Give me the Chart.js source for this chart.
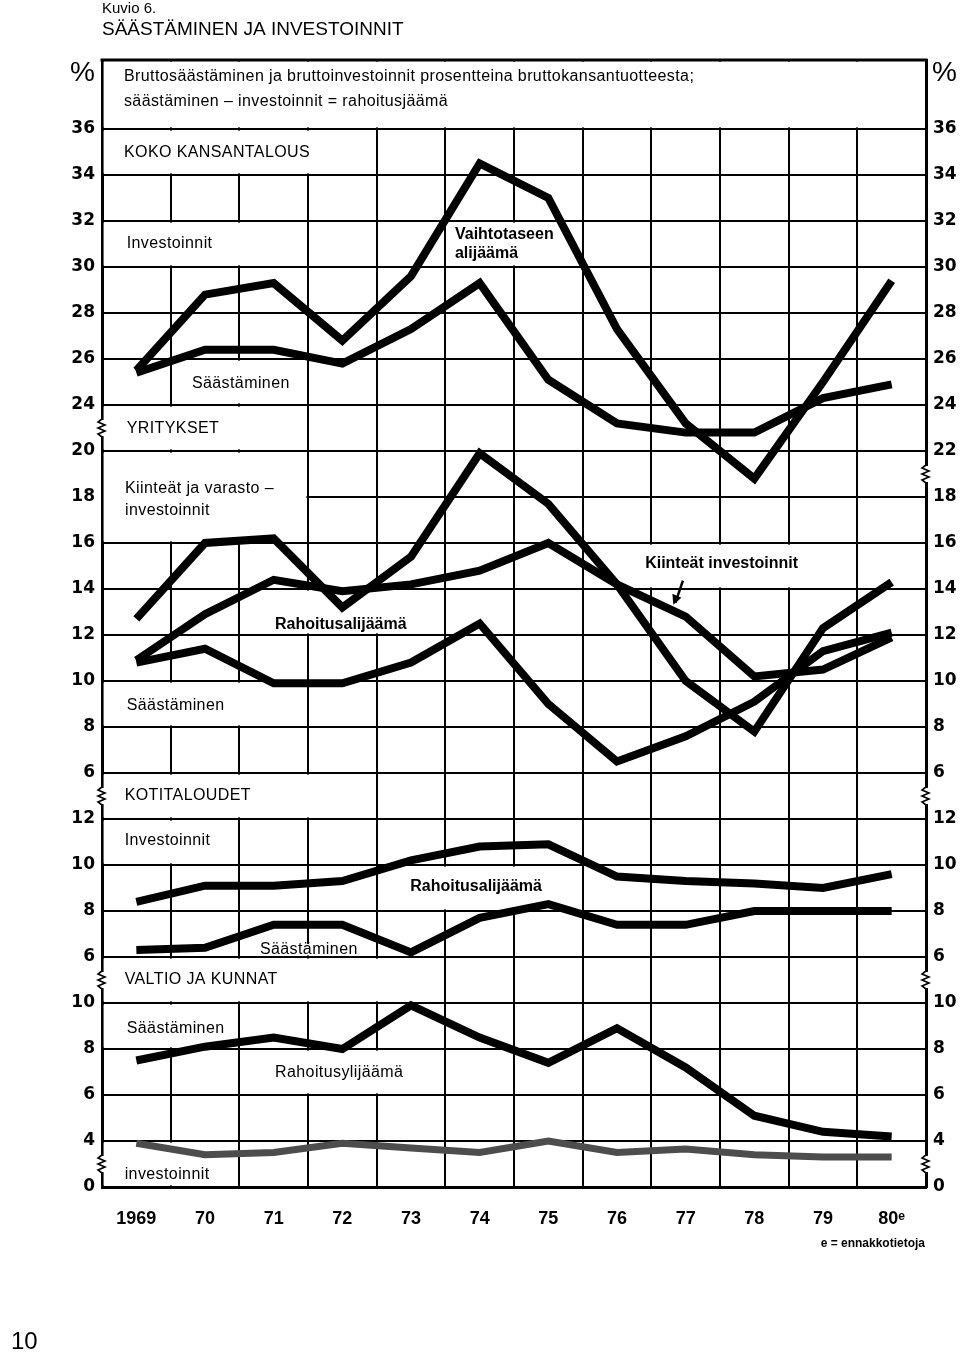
<!DOCTYPE html>
<html>
<head>
<meta charset="utf-8">
<script src="https://cdn.jsdelivr.net/npm/chart.js@4/dist/chart.umd.min.js"></script>
<style>
  html, body { margin: 0; padding: 0; background: #fff; }
  #wrap { position: relative; width: 960px; height: 1354px; }
</style>
</head>
<body>
<div id="wrap"><canvas id="kuvio6" width="960" height="1354"></canvas></div>
<script>
const years = ['1969', '70', '71', '72', '73', '74', '75', '76', '77', '78', '79', '80ᵉ'];

// koko kansantalous, % BKT:sta
const kokoInvestoinnit = [25.5, 28.8, 29.3, 26.8, 29.6, 34.5, 33.0, 27.3, 23.2, 20.8, 25.0, 29.4];
const kokoSaastaminen = [25.4, 26.4, 26.4, 25.8, 27.3, 29.3, 25.1, 23.2, 22.8, 22.8, 24.3, 24.9];

// yritykset
const yritKiinteatVarasto = [12.7, 16.0, 16.2, 13.2, 15.4, 19.9, 17.7, 14.2, 10.0, 7.8, 12.3, 14.3];
const yritKiinteat = [10.9, 12.9, 14.4, 13.9, 14.2, 14.8, 16.0, 14.2, 12.8, 10.2, 10.5, 11.9];
const yritSaastaminen = [10.8, 11.4, 9.9, 9.9, 10.8, 12.5, 9.0, 6.5, 7.6, 9.1, 11.3, 12.1];

// kotitaloudet
const kotiInvestoinnit = [8.4, 9.1, 9.1, 9.3, 10.2, 10.8, 10.9, 9.5, 9.3, 9.2, 9.0, 9.6];
const kotiSaastaminen = [6.3, 6.4, 7.4, 7.4, 6.2, 7.7, 8.3, 7.4, 7.4, 8.0, 8.0, 8.0];

// valtio ja kunnat
const valtioSaastaminen = [7.5, 8.1, 8.5, 8.0, 9.9, 8.5, 7.4, 8.9, 7.2, 5.1, 4.4, 4.2];
const valtioInvestoinnit = [3.9, 3.4, 3.5, 3.9, 3.7, 3.5, 4.0, 3.5, 3.65, 3.4, 3.3, 3.3];

// katkaistu asteikko: yksi askel = 2 %-yksikköä
const leftTicks = ['0', '4', '6', '8', '10', '6', '8', '10', '12', '6', '8', '10', '12', '14', '16', '18', '20', '24', '26', '28', '30', '32', '34', '36'];
const rightTicks = ['0', '4', '6', '8', '10', '6', '8', '10', '12', '6', '8', '10', '12', '14', '16', '18', '22', '24', '26', '28', '30', '32', '34', '36'];

const panelOffset = { koko: 5, yritykset: 6, kotitaloudet: 2, valtio: -1 };
const toAxis = (values, panel) => values.map(v => v / 2 + panelOffset[panel]);

const FONT = "'Liberation Sans', Arial, sans-serif";

const sarjat = [
  ['Koko: investoinnit', kokoInvestoinnit, 'koko', '#000', 8],
  ['Koko: säästäminen', kokoSaastaminen, 'koko', '#000', 8],
  ['Yritykset: kiinteät ja varastoinvestoinnit', yritKiinteatVarasto, 'yritykset', '#000', 8],
  ['Yritykset: kiinteät investoinnit', yritKiinteat, 'yritykset', '#000', 8],
  ['Yritykset: säästäminen', yritSaastaminen, 'yritykset', '#000', 8],
  ['Kotitaloudet: investoinnit', kotiInvestoinnit, 'kotitaloudet', '#000', 8],
  ['Kotitaloudet: säästäminen', kotiSaastaminen, 'kotitaloudet', '#000', 8],
  ['Valtio: säästäminen', valtioSaastaminen, 'valtio', '#000', 8],
  ['Valtio: investoinnit', valtioInvestoinnit, 'valtio', '#4d4d4d', 7]
];

// tekstit ja niiden valkoiset pohjat (x = vuosi-indeksi, y = asteikon askel)
// b = lihavoitu
const merkinnat = [
  { box: [-0.5, 11.5, 23, 24.5], text: [
    ['Bruttosäästäminen ja bruttoinvestoinnit prosentteina bruttokansantuotteesta;', -0.18, 24.13],
    ['säästäminen – investoinnit = rahoitusjäämä', -0.18, 23.59]] },
  { box: [-0.5, 3.5, 22, 23], text: [['KOKO KANSANTALOUS', -0.18, 22.48]] },
  { box: [-0.5, 2.5, 20, 21], text: [['Investoinnit', -0.14, 20.5]] },
  { box: [4.5, 6.5, 20, 21], text: [['Vaihtotaseen', 4.64, 20.7, 'b'], ['alijäämä', 4.64, 20.3, 'b']] },
  { box: [0.5, 2.5, 17, 18], text: [['Säästäminen', 0.81, 17.46]] },
  { box: [-0.5, 2.5, 16, 17], text: [['YRITYKSET', -0.14, 16.49]] },
  { box: [-0.5, 2.5, 14, 16], text: [['Kiinteät ja varasto –', -0.165, 15.18], ['investoinnit', -0.165, 14.7]] },
  { box: [1.5, 4.5, 12, 13], text: [['Rahoitusalijäämä', 2.02, 12.23, 'b']] },
  { box: [-0.5, 2.5, 10, 11], text: [['Säästäminen', -0.14, 10.47]] },
  { box: [6.5, 10.5, 13, 14], text: [['Kiinteät investoinnit', 7.41, 13.55, 'b']] },
  { box: [-0.5, 3.5, 8, 9], text: [['KOTITALOUDET', -0.17, 8.51]] },
  { box: [-0.5, 1.5, 7, 8], text: [['Investoinnit', -0.17, 7.52]] },
  { box: [3.5, 6.5, 6, 7], text: [['Rahoitusalijäämä', 3.99, 6.52, 'b']] },
  { box: [1.72, 3.4, 5, 5.32], text: [['Säästäminen', 1.8, 5.17]] },
  { box: [-0.5, 4.5, 4, 5], text: [['VALTIO JA KUNNAT', -0.17, 4.5]] },
  { box: [-0.5, 1.5, 3, 4], text: [['Säästäminen', -0.14, 3.45]] },
  { box: [1.5, 4.5, 2, 3], text: [['Rahoitusylijäämä', 2.02, 2.48]] },
  { box: [-0.5, 1.5, 0, 1], text: [['investoinnit', -0.17, 0.26]] }
];

const leftBreaks = [16.5, 8.5, 4.5, 0.5];
const rightBreaks = [15.5, 8.5, 4.5, 0.5];

function zigzag(ctx, px, py) {
  ctx.fillStyle = '#fff';
  ctx.fillRect(px - 3, py - 8, 6, 16);
  ctx.beginPath();
  ctx.moveTo(px, py - 9);
  ctx.lineTo(px - 4, py - 6);
  ctx.lineTo(px + 3, py - 3);
  ctx.lineTo(px - 4, py);
  ctx.lineTo(px + 3, py + 3);
  ctx.lineTo(px - 4, py + 6);
  ctx.lineTo(px, py + 9);
  ctx.strokeStyle = '#000';
  ctx.lineWidth = 1.6;
  ctx.stroke();
}

const kehys = {
  id: 'kehys',
  beforeDatasetsDraw(chart) {
    const { ctx, scales: { x, y } } = chart;
    ctx.save();
    ctx.fillStyle = '#fff';
    merkinnat.forEach(m => {
      const [x0, x1, y0, y1] = m.box;
      const px0 = x.getPixelForValue(x0) + 1.6;
      const px1 = x.getPixelForValue(x1) - 1.6;
      const py0 = y.getPixelForValue(y1) + 1.6;
      const py1 = y.getPixelForValue(y0) - 1.6;
      ctx.fillRect(px0, py0, px1 - px0, py1 - py0);
    });
    ctx.fillStyle = '#000';
    ctx.textBaseline = 'middle';
    ctx.textAlign = 'left';
    merkinnat.forEach(m => {
      m.text.forEach(([t, tx, ty, w]) => {
        if (w === 'b') {
          ctx.font = 'bold 16px ' + FONT;
          ctx.letterSpacing = '0px';
        } else {
          ctx.font = '16px ' + FONT;
          ctx.letterSpacing = '0.4px';
        }
        ctx.fillText(t, x.getPixelForValue(tx), y.getPixelForValue(ty));
      });
    });
    ctx.letterSpacing = '0px';
    ctx.restore();
  },
  afterDraw(chart) {
    const { ctx, chartArea: a, scales: { x, y } } = chart;
    ctx.save();
    // yläreuna
    ctx.strokeStyle = '#000';
    ctx.lineWidth = 3;
    ctx.beginPath();
    ctx.moveTo(a.left - 1.5, a.top);
    ctx.lineTo(a.right + 1.5, a.top);
    ctx.stroke();

    leftBreaks.forEach(p => zigzag(ctx, a.left, y.getPixelForValue(p)));
    rightBreaks.forEach(p => zigzag(ctx, a.right, y.getPixelForValue(p)));

    // nuoli "Kiinteät investoinnit"
    const ax0 = x.getPixelForValue(7.96), ay0 = y.getPixelForValue(13.18);
    const ax1 = x.getPixelForValue(7.85), ay1 = y.getPixelForValue(12.7);
    ctx.lineWidth = 2.5;
    ctx.beginPath();
    ctx.moveTo(ax0, ay0);
    ctx.lineTo(ax1, ay1);
    ctx.stroke();
    ctx.fillStyle = '#000';
    ctx.beginPath();
    ctx.moveTo(ax1 - 2, ay1 + 2);
    ctx.lineTo(ax1 - 3, ay1 - 9);
    ctx.lineTo(ax1 + 6, ay1 - 5);
    ctx.closePath();
    ctx.fill();

    ctx.fillStyle = '#000';
    ctx.textBaseline = 'middle';
    ctx.font = '28px ' + FONT;
    ctx.textAlign = 'right';
    ctx.fillText('%', 95, 73);
    ctx.textAlign = 'left';
    ctx.fillText('%', 932, 73);

    ctx.font = '15px ' + FONT;
    ctx.fillText('Kuvio 6.', 102, 9);
    ctx.font = '19px ' + FONT;
    ctx.fillText('SÄÄSTÄMINEN JA INVESTOINNIT', 102, 30);

    ctx.font = 'bold 12px ' + FONT;
    ctx.textAlign = 'right';
    ctx.fillText('e = ennakkotietoja', 925, 1244);

    ctx.textAlign = 'left';
    ctx.font = '24px ' + FONT;
    ctx.fillText('10', 11, 1342);
    ctx.restore();
  }
};

new Chart(document.getElementById('kuvio6'), {
  type: 'line',
  data: {
    labels: years,
    datasets: sarjat.map(([nimi, arvot, paneeli, vari, leveys]) => ({
      label: nimi,
      data: toAxis(arvot, paneeli),
      borderColor: vari,
      backgroundColor: vari,
      borderWidth: leveys,
      borderJoinStyle: 'miter',
      borderCapStyle: 'butt',
      pointRadius: 0,
      tension: 0,
      fill: false,
      yAxisID: 'y'
    }))
  },
  options: {
    responsive: false,
    animation: false,
    devicePixelRatio: 1,
    layout: { padding: { top: 60, left: 0, right: 0, bottom: 0 } },
    plugins: { legend: { display: false }, tooltip: { enabled: false } },
    scales: {
      x: {
        type: 'category',
        offset: true,
        grid: { offset: true, color: '#000', lineWidth: 2, drawTicks: false },
        border: { color: '#000', width: 3 },
        ticks: {
          color: '#000',
          font: { family: FONT, weight: 'bold', size: 18 },
          padding: 21,
          maxRotation: 0,
          autoSkip: false
        },
        afterFit(s) { s.height = 167; }
      },
      y: {
        position: 'left',
        min: 0,
        max: 24.5,
        afterBuildTicks(s) { s.ticks = leftTicks.map((t, i) => ({ value: i })); },
        grid: { color: '#000', lineWidth: 2, drawTicks: false },
        border: { color: '#000', width: 3 },
        ticks: {
          color: '#000',
          font: { family: "'DejaVu Sans', sans-serif", weight: 'bold', size: 17 },
          padding: 7,
          callback: v => leftTicks[v]
        },
        afterFit(s) { s.width = 102; }
      },
      y2: {
        position: 'right',
        min: 0,
        max: 24.5,
        afterBuildTicks(s) { s.ticks = rightTicks.map((t, i) => ({ value: i })); },
        grid: { display: false, drawTicks: false },
        border: { color: '#000', width: 3 },
        ticks: {
          color: '#000',
          font: { family: "'DejaVu Sans', sans-serif", weight: 'bold', size: 17 },
          padding: 7,
          callback: v => rightTicks[v]
        },
        afterFit(s) { s.width = 34; }
      }
    }
  },
  plugins: [kehys]
});
</script>
</body>
</html>
